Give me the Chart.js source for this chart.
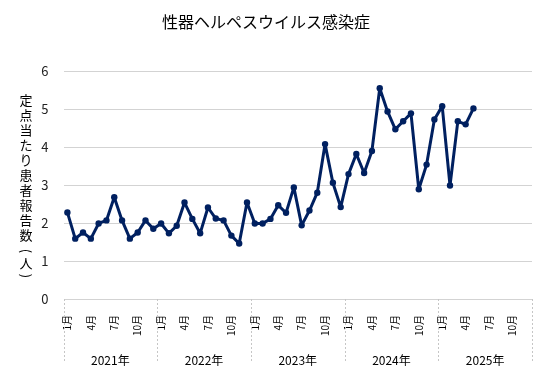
<!DOCTYPE html>
<html><head><meta charset="utf-8">
<script src="https://cdn.jsdelivr.net/npm/chart.js@4/dist/chart.umd.min.js"></script>
<style>html,body{margin:0;padding:0;background:#fff}#wrap{width:549px;height:380px}</style>
</head><body><div id="wrap"><canvas id="c" width="549" height="380"></canvas></div>
<script>
const chartTitle = '性器ヘルペスウイルス感染症';
const yAxisTitle = '定点当たり患者報告数(人)';
const years = ['2021年','2022年','2023年','2024年','2025年'];
const monthNames = ['1月','2月','3月','4月','5月','6月','7月','8月','9月','10月','11月','12月'];
const shownMonths = ['1月','4月','7月','10月'];
const values2021 = [2.28,1.59,1.75,1.59,1.99,2.07,2.68,2.07,1.59,1.75,2.07,1.85];
const values2022 = [1.99,1.73,1.93,2.54,2.11,1.73,2.41,2.12,2.07,1.67,1.46,2.54];
const values2023 = [1.99,1.99,2.11,2.47,2.27,2.94,1.94,2.33,2.80,4.08,3.06,2.42];
const values2024 = [3.29,3.82,3.32,3.90,5.55,4.94,4.47,4.68,4.89,2.89,3.54,4.73];
const values2025 = [5.08,2.99,4.68,4.60,5.02];
const yTicks = [0,1,2,3,4,5,6];

const categories = [];
years.forEach(y => monthNames.forEach(m => categories.push(y + m)));
const series = [].concat(values2021, values2022, values2023, values2024, values2025);

const FONT = '"Noto Sans CJK JP", "Noto Sans", sans-serif';
const GRID = '#d3d3d3';

const extras = {
  id: 'extras',
  afterDraw(chart) {
    const ctx = chart.ctx, xs = chart.scales.x, ca = chart.chartArea;
    const step = xs.getPixelForValue(1) - xs.getPixelForValue(0);
    ctx.save();
    ctx.strokeStyle = '#c6c6c6'; ctx.lineWidth = 1; ctx.setLineDash([2,2]);
    for (let i = 0; i <= years.length; i++) {
      const x = Math.round((i < years.length ? xs.getPixelForValue(i*12) - step/2 : xs.getPixelForValue(years.length*12-1) + step/2)) + 0.5;
      ctx.beginPath(); ctx.moveTo(x, ca.bottom); ctx.lineTo(x, 363); ctx.stroke();
    }
    ctx.setLineDash([]);
    // vertical y-axis title
    ctx.fillStyle = '#000';
    ctx.font = '13px ' + FONT;
    ctx.textAlign = 'center'; ctx.textBaseline = 'middle';
    let y = 100; const cx = 26;
    for (const ch of yAxisTitle) {
      if (ch === '(' || ch === ')') {
        ctx.save(); ctx.translate(cx, y + 1); ctx.rotate(Math.PI/2); ctx.fillText(ch, 0, 0); ctx.restore();
        y += 10;
      } else {
        ctx.fillText(ch, cx, y + (ch === '人' ? 3 : 0));
        y += 15;
      }
    }
    ctx.restore();
  }
};

new Chart(document.getElementById('c'), {
  type: 'line',
  data: {
    labels: categories,
    datasets: [{
      data: series,
      borderColor: '#002060', backgroundColor: '#002060',
      borderWidth: 3, pointRadius: 3.2, pointHoverRadius: 3.2,
      borderJoinStyle: 'round', borderCapStyle: 'round',
      pointBorderWidth: 0, tension: 0, xAxisID: 'x', yAxisID: 'y'
    }]
  },
  options: {
    responsive: false, animation: false,
    layout: { padding: { left: 0, right: 17, top: 0, bottom: 0 } },
    plugins: {
      legend: { display: false }, tooltip: { enabled: false },
      title: { display: true, text: chartTitle, color: '#000',
        font: { family: FONT, size: 16, weight: 'normal' }, padding: { top: 12, bottom: 40 } }
    },
    scales: {
      x: {
        type: 'category', offset: true, position: 'bottom',
        grid: { display: false }, border: { display: false },
        ticks: {
          autoSkip: false, minRotation: 90, maxRotation: 90, padding: 8,
          color: '#000', font: { family: FONT, size: 10 },
          callback(v, i) { const m = monthNames[i % 12]; return shownMonths.includes(m) ? m : ''; }
        },
        afterFit(s) { s.height = 44; }
      },
      x2: {
        type: 'category', labels: years, offset: true, position: 'bottom',
        grid: { display: false }, border: { display: false },
        ticks: { padding: 2, color: '#000', font: { family: FONT, size: 12 } },
        afterFit(s) { s.height = 37; }
      },
      y: {
        min: 0, max: 6,
        afterBuildTicks(s) { s.ticks = yTicks.map(v => ({ value: v })); },
        grid: { color: GRID, drawTicks: false },
        border: { display: false },
        ticks: { padding: 15, color: '#222', font: { family: FONT, size: 13 } },
        afterFit(s) { s.width = 63.5; }
      }
    }
  },
  plugins: [extras]
});
</script></body></html>
